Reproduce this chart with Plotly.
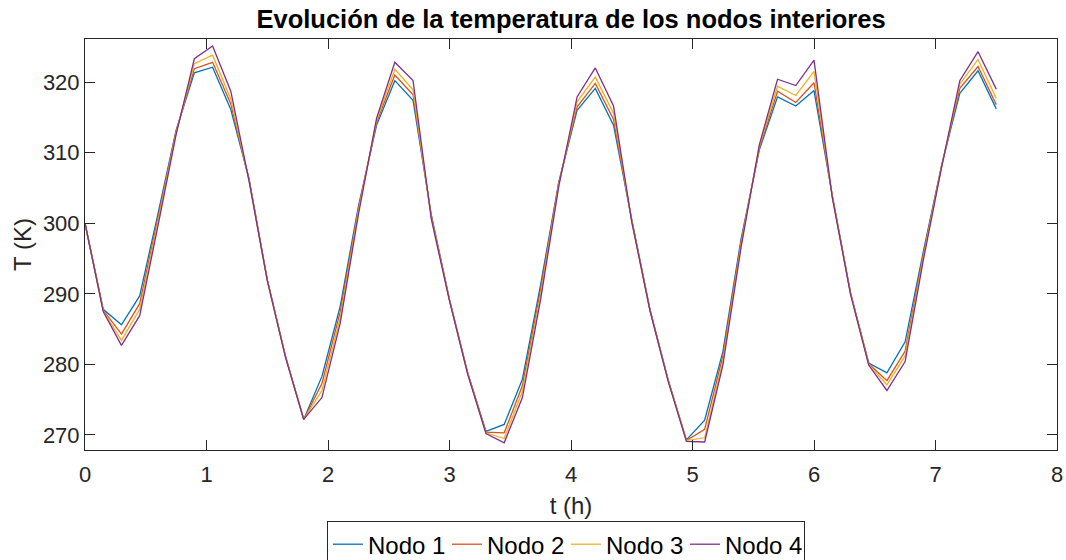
import plotly.graph_objects as go

t = [round(0.15 * i, 2) for i in range(51)]

nodo1 = [300.0, 287.8, 285.6, 289.7, 301.3, 313.2, 321.3, 322.1, 316.1, 306.3,
         292.0, 281.2, 272.2, 278.3, 288.2, 302.4, 313.9, 320.2, 317.4, 301.2,
         289.2, 278.8, 270.5, 271.5, 277.9, 291.3, 305.9, 316.0, 319.1, 313.9,
         300.5, 287.8, 277.8, 269.3, 272.1, 281.8, 297.8, 310.4, 317.9, 316.6,
         318.8, 304.0, 290.2, 280.2, 278.8, 283.2, 296.0, 308.2, 318.4, 321.6,
         316.2]
nodo2 = [300.0, 287.7, 284.3, 288.6, 300.7, 313.0, 321.9, 322.8, 316.9, 306.2,
         292.0, 281.1, 272.2, 277.3, 287.4, 302.0, 314.3, 321.0, 318.2, 301.0,
         289.1, 278.7, 270.4, 270.3, 277.0, 290.6, 305.7, 316.5, 319.8, 314.7,
         300.4, 287.7, 277.7, 269.2, 270.8, 281.2, 297.4, 310.6, 318.7, 317.1,
         319.9, 303.9, 290.1, 280.1, 277.7, 281.9, 295.6, 308.1, 319.1, 322.2,
         316.8]
nodo3 = [300.0, 287.6, 283.4, 287.8, 300.2, 312.8, 322.6, 323.8, 317.6, 306.1,
         291.9, 281.1, 272.2, 276.3, 286.6, 301.6, 314.6, 321.8, 318.9, 300.8,
         289.1, 278.7, 270.3, 269.5, 276.2, 289.9, 305.5, 317.2, 320.7, 315.6,
         300.3, 287.7, 277.7, 269.2, 269.6, 280.5, 297.0, 310.9, 319.4, 318.1,
         321.5, 303.8, 290.1, 280.0, 277.1, 281.2, 295.2, 308.0, 319.7, 323.2,
         317.7]
nodo4 = [300.0, 287.5, 282.7, 286.9, 299.6, 312.6, 323.3, 325.1, 318.7, 306.0,
         291.9, 281.0, 272.2, 275.3, 285.8, 301.2, 314.9, 322.8, 320.2, 300.6,
         289.0, 278.6, 270.2, 268.9, 275.3, 289.2, 305.3, 317.9, 322.0, 316.6,
         300.2, 287.6, 277.6, 269.1, 269.0, 279.9, 296.6, 311.1, 320.4, 319.5,
         323.1, 303.7, 290.0, 279.9, 276.3, 280.4, 294.8, 307.9, 320.2, 324.3,
         319.0]

names = ["Nodo 1", "Nodo 2", "Nodo 3", "Nodo 4"]
colors = ["#0072BD", "#D95319", "#EDB120", "#7E2F8E"]
series = [nodo1, nodo2, nodo3, nodo4]

x_ticks = [0, 1, 2, 3, 4, 5, 6, 7, 8]
y_ticks = [270, 280, 290, 300, 310, 320]

FONT = "Liberation Sans, Arial, Helvetica, sans-serif"
AX = "#262626"

fig = go.Figure()
for name, col, ys in zip(names, colors, series):
    fig.add_trace(go.Scatter(x=t, y=ys, mode="lines", name=name,
                             line=dict(color=col, width=1.3)))

axis_common = dict(showgrid=False, zeroline=False, showline=True, linecolor=AX,
                   linewidth=1, mirror="ticks", ticks="inside", ticklen=10,
                   tickcolor=AX, tickwidth=1,
                   tickfont=dict(family=FONT, size=22, color=AX))

fig.update_layout(
    width=1066, height=560,
    margin=dict(l=85, r=9, t=39, b=110, autoexpand=False),
    paper_bgcolor="white", plot_bgcolor="white",
    title=dict(text="<b>Evolución de la temperatura de los nodos interiores</b>",
               x=0.5357, xanchor="center", y=1 - 19 / 560, yanchor="middle",
               yref="container",
               font=dict(family=FONT, size=25.5, color="black")),
    xaxis=dict(range=[0, 8], tickvals=x_ticks, ticklabelstandoff=5, **axis_common,
               title=dict(text="t (h)", font=dict(family=FONT, size=24, color=AX),
                          standoff=10)),
    yaxis=dict(range=[267.87, 326.1], tickvals=y_ticks, **axis_common,
               title=dict(text="T (K)", font=dict(family=FONT, size=24, color=AX),
                          standoff=4)),
    legend=dict(orientation="h", x=0.4948, xanchor="center", y=-0.173, yanchor="top",
                bordercolor=AX, borderwidth=1, bgcolor="white",
                font=dict(family=FONT, size=24, color="black"),
                itemwidth=30, entrywidth=74, tracegroupgap=0),
    showlegend=True,
)

fig.write_html("out.html")
